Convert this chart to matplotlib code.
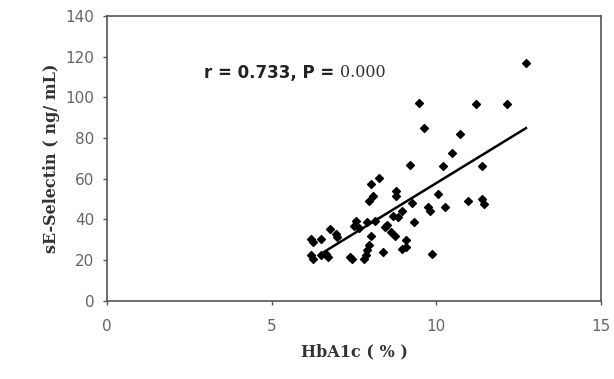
import numpy as np
import matplotlib.pyplot as plt

# HbA1c (%) and sE-Selectin (ng/mL)
hba1c = [12.72, 9.47, 11.2, 12.14, 9.62, 10.72, 10.47, 9.2, 11.4, 10.19,
         8.26, 8.02, 10.04, 8.79, 8.08, 8.79, 7.96, 10.96, 11.4, 11.46,
         9.27, 9.74, 9.8, 10.27, 8.97, 9.32, 8.67, 7.55, 7.49, 7.9,
         8.14, 8.44, 8.62, 8.74, 8.02, 6.78, 6.96, 6.49, 6.19, 6.25,
         9.09, 9.09, 8.97, 7.96, 7.9, 8.38, 9.86, 6.19, 6.25, 6.49,
         6.72, 6.66, 7.38, 7.43, 7.79, 7.85, 8.5, 8.85, 7.0, 7.65]
selectin = [117, 97, 96.5, 96.5, 84.8, 82, 72.7, 66.7, 66.5, 66.2,
            60.5, 57.3, 52.4, 54, 51.6, 51.6, 49.2, 49.2, 50, 47.5,
            48.3, 45.9, 44.3, 45.9, 44.3, 38.6, 41.9, 39.4, 37, 38.6,
            39.4, 36.2, 33.7, 32, 32, 35.4, 33, 30.5, 30.5, 28.9,
            29.7, 26.4, 25.6, 27.3, 24.8, 24, 23.2, 22.4, 20.8, 22.4,
            21.6, 23.2, 21.6, 20.8, 20.8, 22.4, 37.5, 41, 31.5, 36]

# regression line as drawn
slope, intercept = 9.92, -41.3
fit_x = [6.6, 12.72]

fig = plt.figure(figsize=(6.14, 3.79), dpi=100)
ax = fig.add_axes([0.174, 0.206, 0.805, 0.752])

ax.scatter(hba1c, selectin, marker='D', s=16, color='black', zorder=3)
fit_y = [slope * x + intercept for x in fit_x]
ax.plot(fit_x, fit_y, color='black', lw=1.8, zorder=2)

ax.set_xlim(0, 15)
ax.set_ylim(0, 140)
ax.set_xticks([0, 5, 10, 15])
ax.set_yticks(np.arange(0, 141, 20))
ax.tick_params(direction='out', length=3, width=1, colors='#555555',
               labelsize=11, labelcolor='#666666')
ax.tick_params(axis='x', pad=10)
ax.tick_params(axis='y', pad=6)
for s in ax.spines.values():
    s.set_color('#555555')
    s.set_linewidth(1.2)
for lab in ax.get_xticklabels() + ax.get_yticklabels():
    lab.set_family('DejaVu Sans')

ax.set_xlabel('HbA1c ( % )', family='DejaVu Serif', fontweight='bold',
              fontsize=11.5, color='#333333', labelpad=7)
ax.set_ylabel('sE-Selectin ( ng/ mL)', family='DejaVu Serif', fontweight='bold',
              fontsize=11.5, color='#333333', labelpad=4)

t1 = ax.text(2.95, 112, 'r = 0.733, P = ', family='DejaVu Sans', fontweight='bold',
             fontsize=12, va='center', ha='left', color='#222222')
ax.annotate('0.000', xy=(1, 0.5), xycoords=t1, va='center', ha='left',
            family='DejaVu Serif', fontsize=11.5, color='#333333')

fig.savefig('out.png', dpi=100)
